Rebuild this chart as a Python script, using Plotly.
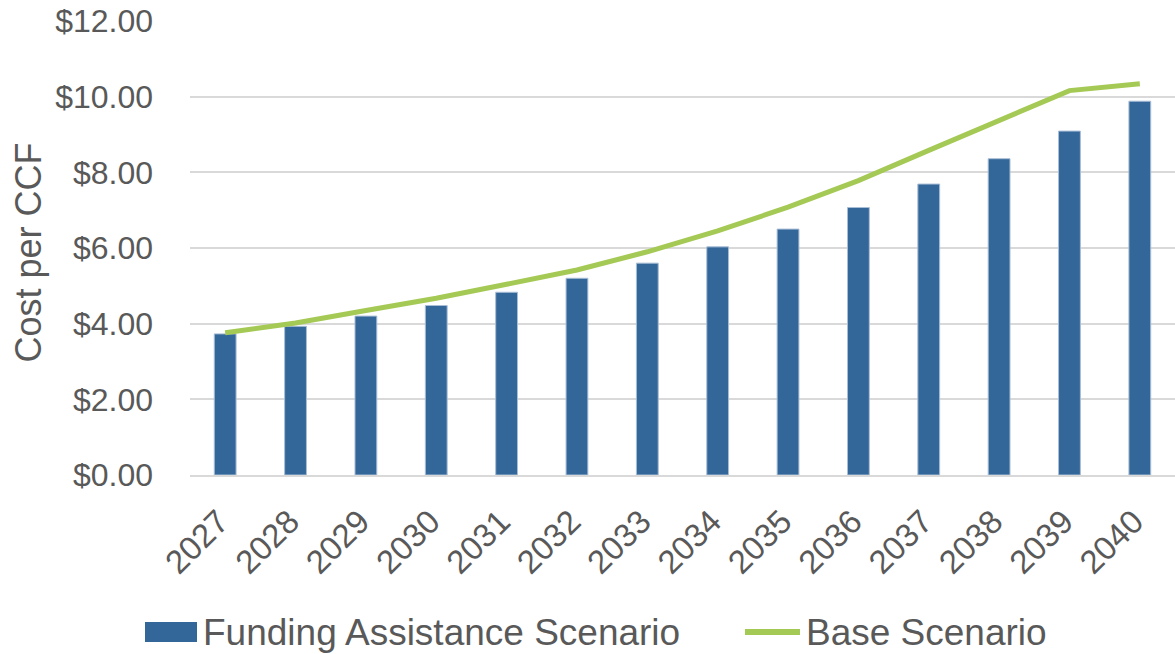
import plotly.graph_objects as go

years = ["2027", "2028", "2029", "2030", "2031", "2032", "2033",
         "2034", "2035", "2036", "2037", "2038", "2039", "2040"]
funding = [3.73, 3.93, 4.20, 4.48, 4.83, 5.20, 5.60,
           6.03, 6.50, 7.07, 7.69, 8.36, 9.09, 9.88]
base = [3.76, 4.02, 4.35, 4.67, 5.04, 5.42, 5.90,
        6.45, 7.08, 7.78, 8.58, 9.37, 10.16, 10.34]
yticks = [0, 2, 4, 6, 8, 10, 12]
ytext = ["$0.00", "$2.00", "$4.00", "$6.00", "$8.00", "$10.00", "$12.00"]
series_names = ["Funding Assistance Scenario", "Base Scenario"]

FONT = "Liberation Sans, Arial, sans-serif"
GREY = "#595959"
BAR_COLOR = "#336699"
LINE_COLOR = "#A5C955"

fig = go.Figure()
fig.add_trace(go.Bar(
    x=years, y=funding, name=series_names[0],
    marker=dict(color=BAR_COLOR, line=dict(color="#A9BED6", width=1)),
))
fig.add_trace(go.Scatter(
    x=years, y=base, name=series_names[1], mode="lines",
    line=dict(color=LINE_COLOR, width=5),
))

# plot area in pixels: x 190..1175, y 21..475
def px_x(p):
    return (p - 190) / 985.0

def px_y(p):
    return (475 - p) / 454.0

legend_y = px_y(632)
shapes = [
    dict(type="rect", xref="paper", yref="paper",
         x0=px_x(145), x1=px_x(197), y0=px_y(642), y1=px_y(622),
         fillcolor=BAR_COLOR, line=dict(width=0)),
    dict(type="line", xref="paper", yref="paper",
         x0=px_x(745), x1=px_x(800), y0=legend_y, y1=legend_y,
         line=dict(color=LINE_COLOR, width=6)),
]
annotations = [
    dict(text="Cost per CCF", x=px_x(29), xref="paper", y=0.49, yref="paper",
         xanchor="center", yanchor="middle", textangle=-90, showarrow=False,
         font=dict(size=36, color=GREY, family=FONT)),
    dict(text=series_names[0], x=px_x(201), y=legend_y, xref="paper", yref="paper",
         xanchor="left", yanchor="middle", showarrow=False,
         font=dict(size=37, color=GREY, family=FONT)),
    dict(text=series_names[1], x=px_x(804), y=legend_y, xref="paper", yref="paper",
         xanchor="left", yanchor="middle", showarrow=False,
         font=dict(size=37, color=GREY, family=FONT)),
]

fig.update_layout(
    width=1175, height=654,
    margin=dict(l=190, r=0, t=21, b=179),
    paper_bgcolor="white", plot_bgcolor="white",
    bargap=0.69,
    font=dict(family=FONT, color=GREY, size=32),
    showlegend=False,
    xaxis=dict(tickangle=-45, tickfont=dict(size=33, color=GREY), showgrid=False,
               showline=True, linecolor="#D9D9D9", linewidth=2, ticks="",
               ticklabelstandoff=12, ticklabelshift=-6),
    yaxis=dict(range=[0, 12], tickvals=yticks, ticktext=ytext, showgrid=True,
               gridcolor="#D9D9D9", gridwidth=2, zeroline=False,
               tickfont=dict(size=32, color=GREY), ticklabelstandoff=36),
    shapes=shapes,
    annotations=annotations,
)

fig.write_html("out.html")
